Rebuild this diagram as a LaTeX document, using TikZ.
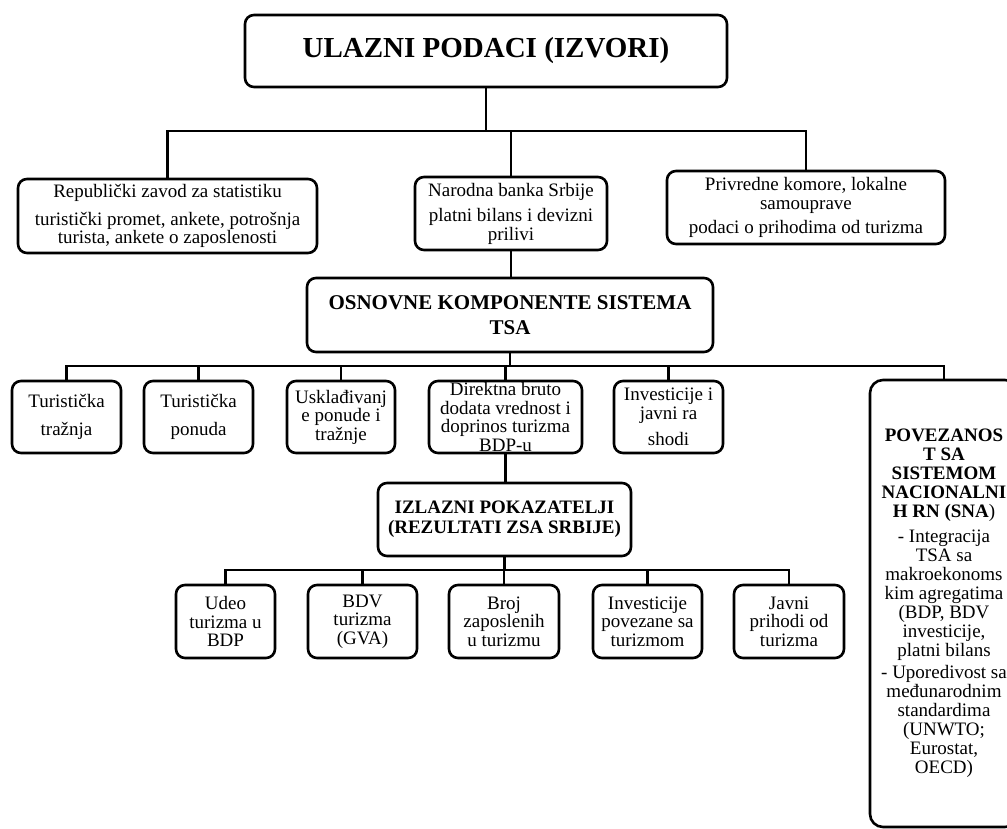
\documentclass[tikz,border=0pt]{standalone}
\usepackage{fontspec}
\setmainfont{Liberation Serif}
\begin{document}
\begin{tikzpicture}[x=1pt,y=-1pt,
  box/.style={draw, line width=2.6pt, rounded corners=9pt, align=center, inner sep=0pt,
              font=\fontsize{19}{18.5}\selectfont},
  conn/.style={line width=2.6pt}]
\useasboundingbox (0,0) rectangle (1007,829);
\fill[white] (0,0) rectangle (1007,829);

% top
\node[box, minimum width=482pt, minimum height=72pt, font=\fontsize{29}{34}\selectfont\bfseries]
  (top) at (486,51) {ULAZNI PODACI (IZVORI)};

% sources
\node[box, minimum width=299pt, minimum height=74pt] (rzs) at (167.5,216)
  {Republički zavod za statistiku\\[9.5pt]turistički promet, ankete, potrošnja\\turista, ankete o zaposlenosti};
\node[box, minimum width=192pt, minimum height=73pt] (nbs) at (511,213.5)
  {Narodna banka Srbije\\[7pt]platni bilans i devizni\\prilivi};
\node[box, minimum width=278pt, minimum height=73pt] (pk) at (806,207.5)
  {Privredne komore, lokalne\\samouprave\\[6pt]podaci o prihodima od turizma};

% components
\node[box, minimum width=406pt, minimum height=74pt, font=\fontsize{21}{25}\selectfont\bfseries]
  (osn) at (510,315) {OSNOVNE KOMPONENTE SISTEMA\\TSA};

\node[box, minimum width=109pt, minimum height=72pt] (c1) at (66.5,417) {Turistička\\[9.5pt]tražnja};
\node[box, minimum width=109pt, minimum height=72pt] (c2) at (198.5,417) {Turistička\\[9.5pt]ponuda};
\node[box, minimum width=108pt, minimum height=72pt] (c3) at (341,417) {Usklađivanj\\e ponude i\\tražnje};
\node[box, minimum width=153pt, minimum height=72pt] (c4) at (505.5,417) {Direktna bruto\\dodata vrednost i\\doprinos turizma\\BDP-u};
\node[box, minimum width=109pt, minimum height=72pt] (c5) at (668.5,417) {Investicije i\\javni ra\\[7.5pt]shodi};

\node[box, minimum width=148pt, minimum height=447pt, rounded corners=13pt,
      font=\fontsize{19}{19}\selectfont] (sna) at (944,603.5)
  {\textbf{POVEZANOS}\\\textbf{T SA}\\\textbf{SISTEMOM}\\\textbf{NACIONALNI}\\\textbf{H RN (SNA})\\[6pt]
   - Integracija\\TSA sa\\makroekonoms\\kim agregatima\\(BDP, BDV\\investicije,\\platni bilans\\[3pt]
   - Uporedivost sa\\međunarodnim\\standardima\\(UNWTO;\\Eurostat,\\OECD)};

% outputs
\node[box, minimum width=253pt, minimum height=73pt, font=\fontsize{19}{20}\selectfont\bfseries]
  (izl) at (504.5,519.5) {IZLAZNI POKAZATELJI\\(REZULTATI ZSA SRBIJE)};

\node[box, minimum width=99pt, minimum height=73pt] (o1) at (225.5,621.5) {Udeo\\turizma u\\BDP};
\node[box, minimum width=109pt, minimum height=73pt] (o2) at (362.5,621.5) {BDV\\turizma\\(GVA)};
\node[box, minimum width=110pt, minimum height=73pt] (o3) at (504,621.5) {Broj\\zaposlenih\\u turizmu};
\node[box, minimum width=109pt, minimum height=73pt] (o4) at (647.5,621.5) {Investicije\\povezane sa\\turizmom};
\node[box, minimum width=110pt, minimum height=73pt] (o5) at (789,621.5) {Javni\\prihodi od\\turizma};

% connectors
\coordinate (b1) at (486,131);
\coordinate (b2) at (510,366);
\coordinate (b3) at (504.5,570);

\draw[conn] (top.south) -- (b1);
\draw[conn] (rzs.north) |- (b1) -| (pk.north);
\draw[conn] (nbs.north) -- (nbs.north |- b1);
\draw[conn] (nbs.south) -- (nbs.south |- osn.north);

\draw[conn] (osn.south) -- (b2);
\draw[conn] (c1.north) |- (b2) -| (sna.north);
\draw[conn] (c2.north) -- (c2.north |- b2);
\draw[conn] (c3.north) -- (c3.north |- b2);
\draw[conn] (c4.north) -- (c4.north |- b2);
\draw[conn] (c5.north) -- (c5.north |- b2);

\draw[conn] (c4.south) -- (c4.south |- izl.north);

\draw[conn] (izl.south) -- (b3);
\draw[conn] (o1.north) |- (b3) -| (o5.north);
\draw[conn] (o2.north) -- (o2.north |- b3);
\draw[conn] (o3.north) -- (o3.north |- b3);
\draw[conn] (o4.north) -- (o4.north |- b3);
\end{tikzpicture}
\end{document}
